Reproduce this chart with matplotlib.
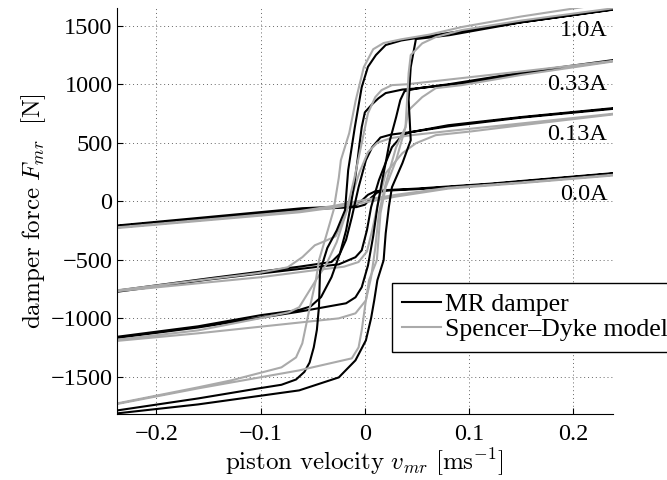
import numpy as np
import matplotlib
matplotlib.use("Agg")
import matplotlib.pyplot as plt
from matplotlib.lines import Line2D

# force-velocity loops (v [m/s], F [N]); "up" = velocity decreasing, "dn" = velocity increasing
mr_0A_up = [(0.238, 240), (0.12, 150), (0.05, 108), (0.02, 95), (0.01, 85), (0.003, 55),
            (-0.003, 5), (-0.008, -30), (-0.02, -45), (-0.06, -60), (-0.15, -135), (-0.238, -208)]
mr_0A_dn = [(-0.238, -214), (-0.15, -145), (-0.06, -70), (-0.02, -55), (-0.008, -50), (0.0, -30),
            (0.006, 30), (0.012, 75), (0.02, 90), (0.05, 103), (0.12, 145), (0.238, 236)]
sd_0A_up = [(0.238, 226), (0.15, 160), (0.08, 115), (0.03, 55), (0.0, 12), (-0.03, -40),
            (-0.063, -85), (-0.15, -155), (-0.238, -224)]
sd_0A_dn = [(-0.238, -230), (-0.15, -162), (-0.063, -95), (-0.03, -55), (0.0, -10), (0.03, 40),
            (0.08, 108), (0.15, 155), (0.238, 220)]

mr_013A_up = [(0.238, 796), (0.15, 720), (0.08, 650), (0.044, 591), (0.025, 570), (0.015, 545),
              (0.007, 462), (0.001, 351), (-0.006, 120), (-0.0125, -137), (-0.018, -330),
              (-0.024, -450), (-0.032, -520), (-0.063, -560), (-0.15, -660), (-0.238, -765)]
mr_013A_dn = [(-0.238, -775), (-0.15, -670), (-0.063, -580), (-0.025, -540), (-0.009, -479),
              (-0.003, -420), (0.002, -248), (0.006, -51), (0.0106, 94), (0.0135, 180),
              (0.02, 330), (0.026, 462), (0.036, 565), (0.044, 591), (0.08, 640), (0.15, 715),
              (0.238, 790)]
sd_013A_up = [(0.238, 748), (0.15, 665), (0.08, 600), (0.045, 565), (0.025, 540), (0.012, 500),
              (0.003, 420), (-0.005, 250), (-0.012, 60), (-0.02, -150), (-0.028, -300),
              (-0.038, -340), (-0.048, -377), (-0.06, -479), (-0.074, -565), (-0.103, -616),
              (-0.238, -762)]
sd_013A_dn = [(-0.238, -770), (-0.1, -650), (-0.048, -590), (-0.02, -560), (-0.006, -520),
              (0.002, -430), (0.007, -250), (0.012, -40), (0.02, 240), (0.036, 411),
              (0.049, 496), (0.068, 565), (0.1, 595), (0.15, 650), (0.238, 742)]

mr_033A_up = [(0.238, 1207), (0.15, 1100), (0.08, 1000), (0.05, 965), (0.036, 955), (0.02, 925),
              (0.013, 880), (0.007, 830), (0.0, 760), (-0.003, 634), (-0.005, 497),
              (-0.007, 351), (-0.01, 150), (-0.014, -60), (-0.018, -250), (-0.024, -450),
              (-0.032, -650), (-0.042, -820), (-0.052, -900), (-0.063, -930), (-0.1, -975),
              (-0.16, -1070), (-0.238, -1160)]
mr_033A_dn = [(-0.238, -1170), (-0.16, -1080), (-0.063, -945), (-0.018, -873), (-0.009, -822),
              (-0.003, -736), (0.003, -550), (0.008, -300), (0.012, -50), (0.016, 150),
              (0.02, 330), (0.024, 520), (0.03, 719), (0.034, 865), (0.038, 940), (0.05, 965),
              (0.1, 1015), (0.15, 1090), (0.238, 1200)]
sd_033A_up = [(0.238, 1200), (0.15, 1110), (0.08, 1040), (0.04, 1000), (0.026, 993),
              (0.016, 950), (0.01, 890), (0.003, 753), (-0.003, 497), (-0.01, 200),
              (-0.018, -100), (-0.027, -350), (-0.037, -540), (-0.047, -676), (-0.063, -907),
              (-0.073, -950), (-0.1, -1000), (-0.16, -1105), (-0.238, -1185)]
sd_033A_dn = [(-0.238, -1195), (-0.16, -1130), (-0.025, -1002), (-0.009, -959), (0.001, -848),
              (0.006, -650), (0.01, -400), (0.0135, -100), (0.02, 150), (0.03, 462),
              (0.039, 634), (0.042, 779), (0.055, 890), (0.068, 967), (0.093, 993),
              (0.15, 1080), (0.238, 1195)]

mr_1A_up = [(0.238, 1640), (0.15, 1530), (0.081, 1440), (0.049, 1395), (0.035, 1375),
            (0.02, 1336), (0.0106, 1250), (0.003, 1150), (-0.003, 976), (-0.0096, 634),
            (-0.016, 265), (-0.019, -77), (-0.027, -250), (-0.036, -400), (-0.043, -600),
            (-0.044, -900), (-0.046, -1100), (-0.049, -1250), (-0.053, -1380), (-0.058, -1460),
            (-0.066, -1525), (-0.08, -1570), (-0.102, -1601), (-0.16, -1687), (-0.238, -1790)]
mr_1A_dn = [(-0.238, -1815), (-0.16, -1738), (-0.063, -1618), (-0.025, -1507), (-0.009, -1361),
            (0.001, -1190), (0.006, -1000), (0.009, -848), (0.012, -676), (0.018, -505),
            (0.02, -274), (0.023, -50), (0.026, 120), (0.036, 325), (0.044, 522), (0.043, 700),
            (0.042, 865), (0.044, 1147), (0.049, 1387), (0.081, 1420), (0.15, 1530),
            (0.238, 1638)]
sd_1A_up = [(0.238, 1700), (0.15, 1580), (0.093, 1490), (0.062, 1425), (0.035, 1385),
            (0.018, 1353), (0.008, 1300), (-0.001, 1147), (-0.0087, 865), (-0.015, 582),
            (-0.023, 351), (-0.025, 200), (-0.03, -77), (-0.0375, -308), (-0.044, -505),
            (-0.047, -676), (-0.054, -959), (-0.06, -1216), (-0.066, -1336), (-0.08, -1421),
            (-0.128, -1532), (-0.16, -1592), (-0.238, -1730)]
sd_1A_dn = [(-0.238, -1735), (-0.16, -1601), (-0.063, -1447), (-0.0125, -1344),
            (-0.006, -1250), (-0.003, -1104), (0.001, -848), (0.004, -676), (0.0115, -505),
            (0.015, -103), (0.02, 120), (0.03, 351), (0.039, 634), (0.042, 1096),
            (0.044, 1250), (0.055, 1350), (0.068, 1404), (0.093, 1464), (0.15, 1545),
            (0.238, 1650)]

current_labels = ['0.0A', '0.13A', '0.33A', '1.0A']
label_force = [10, 525, 950, 1415]
xticks = [-0.2, -0.1, 0, 0.1, 0.2]
xtick_labels = ['\u22120.2', '\u22120.1', '0', '0.1', '0.2']
yticks = [-1500, -1000, -500, 0, 500, 1000, 1500]
ytick_labels = ['\u22121500', '\u22121000', '\u2212500', '0', '500', '1000', '1500']

plt.rcParams['font.family'] = ['Liberation Serif', 'DejaVu Serif']
plt.rcParams['mathtext.fontset'] = 'cm'

fig = plt.figure(figsize=(6.67, 4.80), dpi=100)
ax = fig.add_axes([0.175, 0.1375, 0.744, 0.8452])

loops = [(mr_0A_up, mr_0A_dn, sd_0A_up, sd_0A_dn),
         (mr_013A_up, mr_013A_dn, sd_013A_up, sd_013A_dn),
         (mr_033A_up, mr_033A_dn, sd_033A_up, sd_033A_dn),
         (mr_1A_up, mr_1A_dn, sd_1A_up, sd_1A_dn)]

for mr_up, mr_dn, sd_up, sd_dn in loops:
    mr = np.array(mr_up + mr_dn)
    sd = np.array(sd_up + sd_dn)
    ax.plot(mr[:, 0], mr[:, 1], color='black', lw=1.5)
    ax.plot(sd[:, 0], sd[:, 1], color='#aaaaaa', lw=1.5)

for lab, f in zip(current_labels, label_force):
    ax.text(0.2327, f, lab, ha='right', va='baseline', fontsize=17.5)

ax.set_xlim(-0.238, 0.238)
ax.set_ylim(-1820, 1650)
ax.set_xticks(xticks)
ax.set_xticklabels(xtick_labels)
ax.set_yticks(yticks)
ax.set_yticklabels(ytick_labels)
ax.tick_params(direction='in', length=4, width=0.8, labelsize=17.5)
ax.tick_params(axis='x', pad=7)
ax.tick_params(axis='y', pad=3)
ax.grid(True, linestyle=(0, (1, 3)), color='#666666', lw=0.7)
for side in ['top', 'right']:
    ax.spines[side].set_visible(False)

ax.set_xlabel(r'$\mathrm{piston\ velocity}\ v_{mr}\ [\mathrm{ms}^{-1}]$', fontsize=18, labelpad=1)
ax.set_ylabel(r'$\mathrm{damper\ force}\ F_{mr}\ \ [\mathrm{N}]$', fontsize=18, labelpad=2)

handles = [Line2D([], [], color='black', lw=1.5), Line2D([], [], color='#aaaaaa', lw=1.5)]
leg = ax.legend(handles, ['MR damper', 'Spencer\u2013Dyke model'], loc='upper left',
                bbox_to_anchor=(0.555, 0.323), fontsize=18.5, frameon=True, fancybox=False,
                framealpha=1, edgecolor='black', handlelength=1.5, handletextpad=0.15,
                borderpad=0.4, labelspacing=0.08, borderaxespad=0)
leg.get_frame().set_linewidth(1.0)

fig.savefig('out.png', dpi=100)
